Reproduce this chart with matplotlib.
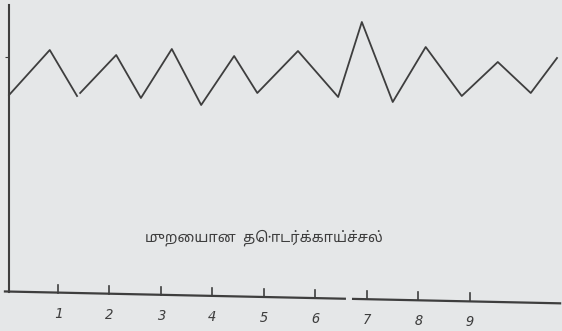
import matplotlib
matplotlib.use("Agg")
import matplotlib.pyplot as plt

# chart values (day on x, relative height on y)
days_a = [0.05, 0.84, 1.37]
temp_a = [197, 242, 196]
days_b = [1.43, 2.13, 2.61, 3.21, 3.78, 4.42, 4.87, 5.66, 6.44, 6.90,
          7.50, 8.14, 8.84, 9.54, 10.18, 10.69]
temp_b = [199, 237, 194, 243, 187, 236, 199, 241, 195, 270,
          190, 245, 196, 230, 199, 234]
day_ticks = [1, 2, 3, 4, 5, 6, 7, 8, 9]
day_labels = ["1", "2", "3", "4", "5", "6", "7", "8", "9"]
title = "முறையான  தொடர்க்காய்ச்சல்"

BG = "#e5e7e8"
INK = "#3e3e3e"

fig = plt.figure(figsize=(5.62, 3.31), dpi=100, facecolor=BG)
ax = fig.add_axes([9 / 562, 39 / 331, 551 / 562, 287 / 331])
ax.set_facecolor(BG)
ax.set_xlim(0.0485, 10.748)
ax.set_ylim(0, 287)

ax.plot(days_a, temp_a, color=INK, lw=1.3, clip_on=False)
ax.plot(days_b, temp_b, color=INK, lw=1.3, clip_on=False)

for s in ["top", "right", "bottom"]:
    ax.spines[s].set_visible(False)
ax.spines["left"].set_color(INK)
ax.spines["left"].set_linewidth(1.5)
ax.set_xticks([])
ax.set_yticks([235])
ax.set_yticklabels([])
ax.tick_params(axis="y", direction="out", length=3, color=INK)

# x axis, slightly skewed like the scan, with a small gap after 6
def base(x):
    return 0.5 - 1.1 * x

for x0, x1 in [(-0.03, 6.57), (6.73, 10.75)]:
    ax.plot([x0, x1], [base(x0), base(x1)], color=INK, lw=1.6, clip_on=False)

for k, lab in zip(day_ticks, day_labels):
    ax.plot([k, k], [base(k), base(k) + 8], color=INK, lw=1.2, clip_on=False)
    ax.text(k, base(k) - 21, lab, ha="center", va="center", fontsize=10,
            family="DejaVu Sans Mono", style="italic", color=INK, clip_on=False)

ax.text(5.0, 54, title, ha="center", va="center", fontsize=10.5, color=INK,
        family=["Noto Sans Tamil", "Lohit Tamil", "Noto Sans", "DejaVu Sans"])

fig.savefig("out.png", dpi=100, facecolor=BG)
